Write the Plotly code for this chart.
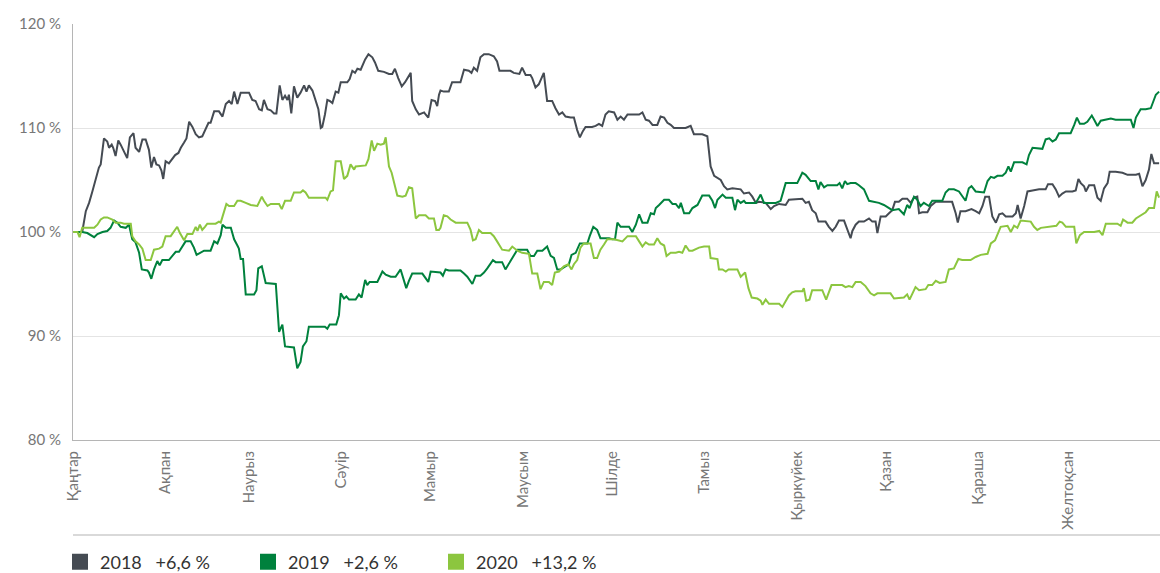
import pandas as pd
import plotly.graph_objects as go

# Қаңтар 1 = 0-күн; мәндер – бастапқы деңгейге қатысты %
MONTHS = ["Қаңтар", "Ақпан", "Наурыз", "Сәуір", "Мамыр", "Маусым",
          "Шілде", "Тамыз", "Қыркүйек", "Қазан", "Қараша", "Желтоқсан"]
Y_TICKS = [80, 90, 100, 110, 120]
Y_LABELS = ["80 %", "90 %", "100 %", "110 %", "120 %"]

days_2018 = [
    0, 3.1, 4.3, 5.4, 6.5, 7.6, 8.7, 9.3, 10.4, 11.5, 12.1, 13.0, 13.5, 14.3, 15.2, 16.0, 17.1, 18.2,
    19.1, 20.3, 21.0, 22.2, 23.3, 24.4, 25.5, 26.3, 27.2, 28.0, 28.9, 29.7, 30.3, 31.1, 32.2, 33.4,
    34.3, 35.4, 36.2, 37.3, 38.1, 39.0, 40.1, 41.2, 42.3, 43.4, 44.6, 45.5, 46.2, 47.4, 49.0, 50.2,
    51.3, 52.4, 53.3, 54.1, 55.2, 56.3, 59.1, 60.2, 61.3, 62.5, 63.4, 64.1, 65.3, 66.4, 67.5, 68.3,
    69.4, 70.3, 71.2, 72.0, 72.5, 73.3, 74.2, 75.3, 76.4, 77.6, 78.4, 79.2, 80.4, 81.5, 82.4, 83.2,
    83.7, 84.6, 85.4, 86.2, 87.1, 88.2, 89.1, 89.9, 92.1, 92.9, 93.8, 94.7, 95.5, 96.6, 97.2, 98.1,
    99.2, 100.5, 101.4, 102.5, 104.4, 106.1, 107.2, 108.1, 109.2, 110.4, 111.5, 112.6, 113.4, 113.9,
    115.1, 116.2, 117.9, 118.4, 119.3, 120.4, 121.6, 122.3, 122.9, 123.4, 124.5, 126.2, 127.3, 130.1,
    131.3, 132.9, 133.8, 134.6, 135.7, 136.8, 138.0, 139.6, 141.3, 142.4, 143.2, 146.9, 148.0, 149.9,
    150.8, 152.0, 153.6, 154.2, 155.3, 156.4, 158.1, 159.2, 160.9, 162.0, 163.2, 164.3, 165.4, 167.1,
    168.2, 169.3, 170.2, 171.2, 172.1, 174.3, 175.5, 176.6, 177.7, 178.8, 179.9, 181.7, 182.8, 183.9,
    185.0, 186.2, 190.1, 191.2, 192.3, 193.4, 194.6, 196.2, 197.3, 198.5, 199.6, 200.7, 201.8, 205.7,
    207.4, 208.5, 210.2, 211.3, 213.0, 213.6, 214.1, 215.3, 216.4, 217.5, 218.6, 219.7, 221.4, 223.1,
    224.2, 225.3, 227.0, 228.1, 229.3, 230.4, 232.6, 234.3, 235.4, 237.1, 239.3, 240.4, 244.9, 246.0,
    247.1, 248.2, 249.4, 250.3, 252.7, 253.8, 255.0, 256.1, 257.2, 258.9, 259.7, 260.5, 261.1, 261.7,
    262.8, 263.9, 265.6, 267.3, 268.4, 269.5, 270.1, 271.2, 272.9, 274.0, 275.1, 276.0, 277.3, 278.5,
    280.1, 281.3, 282.4, 283.5, 284.1, 285.2, 286.9, 288.0, 289.7, 295.2, 296.4, 297.1, 298.0, 299.7,
    301.7, 303.1, 304.3, 305.4, 306.3, 307.6, 308.7, 309.9, 311.0, 312.1, 313.2, 315.5, 316.6, 317.2,
    318.2, 319.4, 320.5, 322.2, 324.4, 326.6, 327.4, 328.9, 330.0, 331.1, 332.2, 333.4, 335.6, 336.7,
    337.6, 338.4, 339.5, 340.1, 341.2, 342.9, 343.4, 344.0, 345.1, 346.2, 347.4, 348.1, 350.1, 352.4,
    354.1, 356.9, 358.0, 359.1, 360.2, 361.3, 362.1, 363.0, 364.7,
]
values_2018 = [
    100.0, 100.0, 102.0, 102.8, 103.9, 105.0, 106.2, 106.5, 109.0, 108.7, 108.1, 108.4, 108.1, 107.3,
    108.8, 108.4, 107.8, 107.1, 109.1, 109.5, 108.1, 107.7, 108.9, 108.9, 107.9, 106.2, 107.2, 106.5,
    106.4, 105.9, 105.1, 106.8, 106.6, 107.1, 107.4, 107.6, 108.1, 108.6, 109.0, 110.6, 110.1, 109.4,
    109.1, 109.2, 109.9, 110.5, 110.5, 111.6, 111.6, 111.1, 112.3, 112.6, 112.3, 113.5, 112.3, 113.4,
    113.4, 112.7, 112.6, 111.8, 111.7, 112.7, 111.8, 111.7, 111.4, 111.4, 114.1, 112.7, 113.1, 112.7,
    113.2, 111.4, 114.0, 112.9, 113.4, 114.1, 113.5, 114.1, 113.6, 112.7, 111.8, 110.0, 110.1, 111.3,
    112.7, 112.6, 112.4, 113.5, 113.4, 114.4, 114.4, 114.7, 115.5, 115.3, 115.7, 115.6, 116.0, 116.6,
    117.1, 116.8, 116.3, 115.5, 115.4, 115.2, 115.2, 115.7, 114.8, 114.0, 114.4, 115.0, 115.3, 112.6,
    111.8, 111.3, 111.5, 111.3, 111.0, 112.7, 112.6, 112.1, 113.2, 113.6, 113.5, 113.5, 114.4, 114.4,
    115.6, 115.5, 115.3, 115.8, 115.5, 116.8, 117.1, 117.1, 116.9, 116.4, 115.5, 115.5, 115.3, 115.2,
    115.8, 115.1, 115.1, 114.8, 113.9, 114.2, 115.3, 112.6, 112.6, 111.9, 111.3, 111.5, 111.1, 111.0,
    111.0, 109.8, 109.1, 109.7, 110.1, 110.1, 110.2, 110.4, 110.2, 111.3, 111.6, 111.5, 110.8, 111.1,
    110.8, 111.3, 111.3, 111.5, 110.8, 110.7, 110.3, 110.3, 111.1, 111.0, 110.5, 110.3, 110.0, 110.0,
    110.2, 109.4, 109.4, 109.4, 109.2, 107.8, 106.3, 105.4, 105.2, 105.0, 104.4, 104.1, 104.2, 104.1,
    104.1, 103.7, 103.8, 103.4, 102.8, 102.9, 102.8, 102.2, 102.5, 102.7, 102.6, 103.1, 103.2, 102.8,
    102.9, 102.1, 101.8, 101.0, 101.0, 100.5, 100.1, 100.5, 101.1, 101.1, 100.4, 99.9, 99.4, 100.1,
    100.7, 101.0, 101.0, 101.3, 101.0, 101.0, 99.9, 101.5, 101.5, 101.8, 102.1, 102.9, 102.9, 103.2,
    103.2, 102.8, 103.3, 103.4, 101.8, 101.9, 101.9, 102.5, 102.9, 102.9, 101.8, 100.9, 102.0, 102.0,
    102.2, 102.0, 101.8, 102.5, 103.4, 103.4, 101.5, 100.9, 101.7, 101.8, 101.5, 101.5, 101.8, 102.6,
    101.3, 102.5, 103.9, 104.0, 104.1, 104.1, 104.6, 104.6, 104.1, 103.4, 103.7, 103.9, 103.9, 104.0,
    105.1, 104.7, 104.4, 103.9, 104.5, 104.5, 103.9, 103.3, 103.0, 104.2, 104.7, 105.8, 105.8, 105.7,
    105.5, 105.5, 105.6, 104.4, 105.0, 106.0, 107.5, 106.6, 106.6,
]

days_2019 = [
    0, 3.1, 4.8, 5.9, 7.1, 8.2, 9.9, 11.5, 12.6, 13.8, 14.9, 16.0, 17.7, 18.8, 19.9, 21.0, 22.2, 23.1,
    25.0, 25.5, 26.3, 27.2, 28.3, 29.1, 30.0, 32.2, 33.4, 34.5, 35.6, 36.7, 37.8, 39.5, 40.6, 41.5,
    42.9, 44.0, 46.2, 47.4, 48.5, 49.6, 50.2, 51.3, 53.0, 54.1, 55.2, 55.7, 56.3, 57.1, 58.0, 60.8,
    61.6, 62.2, 63.4, 64.7, 68.1, 69.2, 70.3, 71.2, 74.2, 75.3, 76.4, 77.2, 78.4, 79.2, 84.6, 85.4,
    86.2, 88.4, 89.3, 89.9, 91.0, 91.8, 92.7, 94.9, 96.0, 96.9, 98.1, 98.8, 99.6, 102.2, 103.9, 105.0,
    106.7, 108.3, 110.0, 111.2, 111.9, 112.8, 113.9, 117.3, 119.3, 120.1, 123.4, 124.2, 125.1, 126.2,
    130.1, 131.3, 132.4, 134.1, 135.2, 136.8, 138.0, 139.1, 141.0, 141.9, 144.1, 145.2, 146.4, 148.4,
    149.2, 152.5, 153.6, 154.8, 155.9, 157.6, 159.2, 160.4, 161.5, 162.6, 163.7, 164.8, 166.5, 167.4,
    168.8, 170.2, 172.7, 173.5, 174.7, 176.0, 177.1, 180.0, 181.1, 182.0, 182.8, 183.9, 186.7, 187.8,
    189.0, 190.1, 191.2, 192.9, 194.0, 195.1, 195.7, 196.8, 198.5, 200.1, 201.3, 202.4, 203.5, 204.1,
    205.2, 206.9, 208.0, 209.7, 211.3, 213.6, 214.7, 215.6, 216.4, 218.1, 219.2, 221.4, 222.3, 223.1,
    224.2, 225.3, 225.9, 229.3, 230.9, 232.0, 236.0, 237.6, 239.3, 243.2, 244.9, 246.0, 247.7, 249.4,
    250.3, 251.0, 252.2, 253.3, 256.6, 257.4, 258.3, 259.2, 260.0, 261.1, 262.8, 263.9, 265.6, 267.3,
    270.6, 272.3, 274.0, 275.1, 277.3, 279.0, 280.1, 280.9, 282.4, 283.5, 284.6, 285.7, 287.4, 288.5,
    291.9, 293.0, 294.1, 295.8, 297.5, 298.6, 299.7, 300.8, 301.7, 303.1, 305.9, 307.1, 308.2, 309.3,
    310.4, 312.1, 313.2, 314.1, 314.9, 316.0, 318.8, 320.2, 321.0, 322.2, 325.5, 326.6, 327.8, 328.9,
    330.0, 331.1, 333.9, 335.0, 336.2, 337.1, 338.1, 339.5, 340.6, 342.1, 342.9, 344.0, 345.1, 347.4,
    348.5, 350.1, 355.2, 356.1, 356.9, 358.5, 360.2, 361.9, 363.6, 364.7,
]
values_2019 = [
    100.0, 100.0, 99.9, 99.7, 99.5, 99.8, 100.0, 100.1, 100.4, 101.1, 100.9, 100.5, 100.4, 100.7,
    99.3, 99.0, 98.0, 96.4, 96.3, 96.1, 95.5, 96.4, 97.2, 96.8, 97.3, 97.3, 97.7, 98.1, 98.1, 98.6,
    99.1, 99.1, 98.5, 97.8, 98.0, 98.2, 98.2, 99.1, 98.9, 99.7, 100.7, 100.4, 100.4, 99.3, 98.7, 98.4,
    97.4, 97.4, 94.0, 94.0, 94.4, 96.5, 96.7, 95.1, 95.0, 90.4, 91.1, 89.0, 88.9, 86.9, 87.5, 89.0,
    89.5, 90.9, 90.9, 90.7, 91.1, 91.1, 92.0, 94.1, 93.6, 93.8, 93.5, 93.5, 94.0, 93.7, 95.4, 94.9,
    95.2, 95.2, 96.2, 95.9, 95.7, 95.7, 96.4, 95.4, 94.6, 95.3, 96.0, 96.0, 95.2, 96.2, 96.1, 95.8,
    96.4, 96.3, 96.3, 96.0, 95.7, 95.0, 95.8, 95.8, 96.1, 96.5, 97.3, 97.1, 97.1, 96.4, 97.0, 98.0,
    98.3, 98.3, 97.7, 97.7, 98.2, 98.2, 98.6, 97.7, 97.5, 96.4, 96.4, 96.6, 96.9, 97.8, 98.0, 98.9,
    98.9, 99.6, 100.5, 100.2, 99.4, 99.4, 99.3, 99.3, 100.9, 100.5, 100.5, 100.0, 100.7, 101.7, 100.9,
    100.9, 101.8, 101.7, 102.3, 102.6, 103.1, 103.1, 102.7, 102.7, 102.3, 102.8, 101.8, 101.8, 102.3,
    102.6, 103.5, 103.5, 103.0, 102.3, 103.1, 103.6, 103.3, 103.3, 102.1, 103.1, 102.8, 103.0, 102.8,
    102.8, 103.6, 102.8, 102.8, 103.0, 104.7, 104.7, 105.7, 105.5, 104.9, 104.9, 104.1, 104.8, 104.3,
    104.5, 104.5, 104.7, 104.2, 104.9, 104.6, 104.7, 104.7, 104.5, 104.1, 103.0, 102.8, 102.6, 102.3,
    102.1, 102.2, 101.7, 102.6, 102.3, 103.4, 103.1, 102.5, 102.8, 102.5, 103.0, 103.0, 103.8, 104.1,
    104.1, 103.9, 103.4, 103.0, 104.2, 104.4, 103.9, 103.8, 104.9, 105.3, 105.2, 105.4, 105.4, 105.7,
    106.3, 105.8, 106.7, 106.7, 106.5, 107.4, 108.1, 108.0, 108.9, 109.0, 108.7, 108.9, 109.5, 109.5,
    109.5, 110.3, 111.0, 110.4, 110.4, 110.6, 111.2, 110.8, 110.2, 110.7, 110.8, 110.9, 110.8, 110.8,
    110.0, 111.0, 111.8, 111.8, 111.9, 113.2, 113.5,
]

days_2020 = [
    0, 1.5, 2.2, 3.1, 7.1, 8.2, 9.3, 10.4, 11.5, 13.2, 14.3, 16.0, 17.1, 19.4, 19.9, 21.0, 22.2, 23.3,
    24.4, 26.1, 27.2, 28.9, 30.0, 31.1, 32.8, 33.9, 35.0, 35.9, 37.3, 38.4, 40.1, 41.2, 41.8, 42.6,
    43.4, 44.3, 45.1, 47.9, 49.0, 49.6, 50.7, 51.5, 52.4, 54.1, 55.2, 56.3, 58.0, 59.7, 61.9, 63.4,
    64.1, 65.3, 66.4, 69.2, 70.1, 71.2, 73.1, 74.2, 76.4, 77.2, 78.1, 79.2, 84.8, 85.4, 86.5, 87.3,
    88.2, 89.9, 91.0, 92.1, 93.2, 94.4, 94.9, 98.3, 99.2, 100.3, 101.1, 102.2, 103.3, 104.4, 105.0,
    106.1, 107.0, 108.9, 110.6, 111.7, 112.8, 113.9, 115.1, 116.2, 118.4, 119.5, 121.2, 122.0, 122.9,
    123.4, 124.5, 125.7, 126.8, 128.5, 132.4, 133.5, 134.3, 135.2, 136.3, 137.4, 140.2, 141.3, 142.4,
    144.1, 146.4, 147.5, 149.2, 150.8, 153.1, 154.2, 155.9, 157.0, 158.1, 159.8, 160.9, 161.8, 163.2,
    164.8, 166.3, 167.4, 168.2, 169.3, 170.4, 171.5, 173.8, 174.9, 176.0, 177.1, 178.3, 179.4, 181.7,
    182.8, 184.5, 186.2, 189.0, 190.1, 191.2, 192.3, 193.4, 195.1, 196.2, 197.3, 198.5, 199.3, 200.7,
    202.4, 203.5, 204.6, 205.7, 206.9, 208.0, 210.2, 211.9, 213.6, 214.1, 216.4, 216.9, 218.1, 219.2,
    220.1, 223.1, 224.2, 225.7, 226.8, 227.9, 229.8, 230.9, 231.5, 232.6, 233.7, 237.1, 238.2, 239.3,
    240.4, 241.5, 242.6, 244.9, 245.4, 246.2, 247.3, 248.2, 251.6, 252.9, 254.7, 258.3, 259.4, 260.5,
    261.7, 262.8, 264.5, 266.1, 267.8, 269.0, 270.1, 274.5, 275.7, 279.0, 280.1, 280.9, 282.9, 284.1,
    286.3, 287.2, 288.5, 289.7, 291.0, 293.0, 294.1, 295.8, 297.3, 298.6, 301.4, 303.1, 304.8, 307.1,
    308.2, 309.6, 310.4, 311.5, 313.8, 314.9, 316.0, 317.1, 318.2, 321.6, 322.7, 323.8, 325.0, 328.9,
    330.2, 331.3, 332.2, 333.4, 336.2, 336.9, 338.1, 339.5, 342.9, 344.6, 345.7, 346.8, 350.7, 351.8,
    352.6, 354.1, 355.7, 356.9, 358.0, 359.1, 360.2, 361.3, 363.0, 363.6, 363.9, 364.7,
]
values_2020 = [
    100.0, 100.0, 99.5, 100.4, 100.4, 100.7, 101.2, 101.4, 101.4, 101.2, 100.9, 100.9, 100.8, 100.8,
    99.6, 99.1, 98.8, 98.4, 97.3, 97.3, 98.3, 98.4, 98.6, 99.6, 99.6, 100.1, 100.5, 99.9, 99.2, 99.8,
    99.8, 100.5, 100.1, 100.7, 100.2, 100.5, 100.8, 100.8, 101.0, 100.9, 102.0, 102.7, 102.5, 102.5,
    103.0, 103.0, 102.8, 102.6, 102.5, 103.4, 103.0, 102.5, 102.7, 102.7, 102.2, 103.0, 103.0, 103.8,
    103.8, 104.0, 103.8, 103.3, 103.3, 103.1, 103.9, 104.0, 106.8, 106.8, 105.1, 105.4, 106.5, 106.0,
    106.3, 106.4, 107.0, 108.8, 107.8, 108.5, 108.4, 108.5, 109.1, 106.3, 105.7, 103.5, 103.4, 103.5,
    104.3, 104.2, 101.3, 101.6, 101.6, 101.3, 101.3, 100.2, 100.2, 100.4, 101.6, 101.5, 101.2, 100.9,
    100.9, 100.2, 99.2, 99.3, 100.2, 99.9, 99.9, 99.6, 99.1, 98.3, 98.2, 98.6, 98.2, 98.0, 97.9, 96.0,
    96.0, 94.5, 95.2, 95.2, 94.9, 96.1, 96.2, 96.7, 96.9, 96.4, 96.9, 97.3, 98.5, 98.9, 98.9, 97.5,
    97.5, 98.3, 98.8, 99.3, 99.3, 99.2, 99.1, 99.6, 99.6, 99.1, 98.6, 99.0, 98.8, 98.8, 99.4, 98.9,
    98.7, 97.7, 98.0, 98.0, 98.1, 98.0, 98.7, 98.2, 98.2, 98.5, 98.6, 98.6, 97.5, 97.4, 96.4, 96.4,
    96.2, 96.4, 96.4, 95.7, 96.1, 94.6, 93.7, 93.6, 93.4, 93.0, 93.5, 93.1, 93.1, 92.8, 93.3, 93.9,
    94.2, 94.3, 94.3, 94.6, 93.4, 93.5, 94.4, 94.4, 93.5, 94.9, 94.9, 94.7, 94.8, 94.7, 95.2, 95.2,
    94.8, 94.1, 93.9, 94.1, 94.1, 93.6, 93.7, 94.0, 93.5, 94.7, 94.4, 94.5, 94.9, 94.9, 95.3, 95.1,
    95.2, 96.4, 96.5, 97.4, 97.3, 97.3, 97.6, 97.8, 97.9, 98.9, 99.2, 99.7, 100.5, 100.6, 100.0, 100.6,
    100.4, 101.1, 101.0, 100.5, 100.2, 100.4, 100.5, 100.6, 101.0, 100.9, 100.5, 100.5, 98.9, 99.7,
    100.0, 100.0, 100.1, 99.7, 100.8, 100.8, 100.6, 101.2, 100.9, 100.9, 101.3, 101.5, 101.7, 101.9,
    102.3, 102.3, 103.4, 103.9, 103.3,
]

SERIES = [
    ("2018", "+6,6 %", days_2018, values_2018, "#454b53"),
    ("2019", "+2,6 %", days_2019, values_2019, "#00813d"),
    ("2020", "+13,2 %", days_2020, values_2020, "#8cc63f"),
]

START = pd.Timestamp("2019-01-01")
FIG_W, FIG_H = 1160, 573


def to_dates(days):
    return START + pd.to_timedelta(days, unit="D")


fig = go.Figure()

for year, change, days, values, color in SERIES:
    fig.add_trace(go.Scatter(
        x=to_dates(days), y=values, mode="lines",
        line=dict(color=color, width=2), showlegend=False, hoverinfo="skip",
    ))

# legend squares
for year, change, days, values, color in SERIES:
    fig.add_trace(go.Scatter(
        x=[None], y=[None], mode="markers",
        marker=dict(symbol="square", size=16, color=color),
        name=f"{year}\u00a0\u00a0\u00a0{change}",
    ))

month_ticks = pd.date_range("2019-01-01", periods=12, freq="MS")

fig.update_layout(
    width=FIG_W,
    height=FIG_H,
    paper_bgcolor="white",
    plot_bgcolor="white",
    font=dict(family="Lato, sans-serif", color="#777777", size=15),
    margin=dict(l=73, r=0, t=24, b=133, autoexpand=False),
    xaxis=dict(
        type="date",
        range=[START, pd.Timestamp("2020-01-01")],
        tickvals=month_ticks,
        ticktext=MONTHS,
        tickangle=-90,
        ticks="",
        ticklabelstandoff=4,
        showgrid=False,
        showline=True,
        linecolor="#b5b5b5",
        linewidth=1,
        zeroline=False,
        automargin=False,
    ),
    yaxis=dict(
        range=[80, 120],
        tickvals=Y_TICKS,
        ticktext=Y_LABELS,
        ticks="",
        ticklabelstandoff=8,
        showgrid=True,
        gridcolor="#e4e4e4",
        gridwidth=1,
        showline=True,
        linecolor="#b5b5b5",
        linewidth=1,
        zeroline=False,
        automargin=False,
    ),
    legend=dict(
        orientation="h",
        xref="container",
        yref="container",
        x=60 / FIG_W,
        xanchor="left",
        y=11 / FIG_H,
        yanchor="middle",
        font=dict(size=18, color="#333333"),
        entrywidth=143,
        entrywidthmode="pixels",
        itemclick=False,
    ),
    shapes=[dict(
        type="line", xref="paper", yref="paper",
        x0=0, x1=1, y0=-0.2284, y1=-0.2284,
        line=dict(color="#cccccc", width=1.5),
    )],
)

# drop the default 8px page margin so the figure fills the window exactly
fig.write_html(
    "out.html",
    config={"displayModeBar": False},
    post_script="document.body.style.margin='0';document.body.style.overflow='hidden';",
)
